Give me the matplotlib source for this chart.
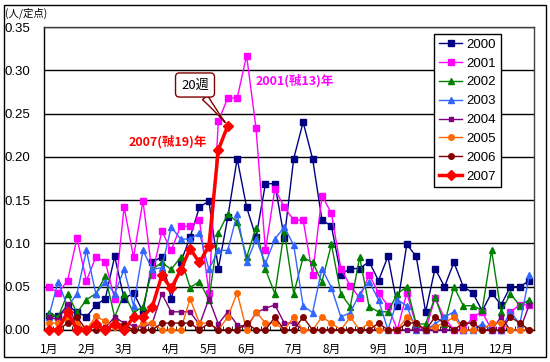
import matplotlib
matplotlib.use('Agg')
import matplotlib.pyplot as plt
from matplotlib.patches import Rectangle
import numpy as np

weeks = list(range(1, 53))
month_labels = ['1月', '2月', '3月', '4月', '5月', '6月', '7月', '8月', '9月', '10月', '11月', '12月']
month_weeks = [1, 5, 9, 14, 18, 22, 27, 31, 36, 40, 44, 49]
y_ticks = [0.00, 0.05, 0.10, 0.15, 0.20, 0.25, 0.30, 0.35]

y2000 = [0.016, 0.016, 0.028, 0.021, 0.015, 0.029, 0.036, 0.085, 0.036, 0.043,
         0.021, 0.079, 0.084, 0.036, 0.078, 0.107, 0.142, 0.149, 0.071, 0.130,
         0.198, 0.142, 0.107, 0.169, 0.169, 0.106, 0.198, 0.240, 0.198, 0.127,
         0.120, 0.064, 0.071, 0.071, 0.079, 0.057, 0.085, 0.028, 0.099, 0.085,
         0.021, 0.071, 0.050, 0.078, 0.050, 0.043, 0.022, 0.043, 0.029, 0.050,
         0.050, 0.057]
y2001 = [0.050, 0.043, 0.057, 0.106, 0.057, 0.084, 0.079, 0.036, 0.142, 0.084,
         0.149, 0.064, 0.114, 0.092, 0.120, 0.120, 0.127, 0.043, 0.241, 0.268,
         0.268, 0.317, 0.233, 0.092, 0.163, 0.142, 0.127, 0.127, 0.064, 0.155,
         0.135, 0.071, 0.051, 0.037, 0.064, 0.043, 0.028, 0.000, 0.043, 0.005,
         0.000, 0.037, 0.014, 0.000, 0.000, 0.015, 0.021, 0.000, 0.000, 0.021,
         0.029, 0.029]
y2002 = [0.020, 0.015, 0.042, 0.020, 0.035, 0.042, 0.062, 0.015, 0.042, 0.020,
         0.027, 0.070, 0.078, 0.070, 0.084, 0.049, 0.056, 0.035, 0.112, 0.134,
         0.125, 0.084, 0.118, 0.070, 0.042, 0.114, 0.042, 0.084, 0.078, 0.056,
         0.099, 0.042, 0.027, 0.084, 0.027, 0.021, 0.021, 0.042, 0.050, 0.007,
         0.007, 0.038, 0.007, 0.050, 0.028, 0.028, 0.023, 0.092, 0.021, 0.042,
         0.028, 0.035]
y2003 = [0.015, 0.056, 0.027, 0.042, 0.092, 0.042, 0.056, 0.042, 0.070, 0.028,
         0.092, 0.070, 0.072, 0.119, 0.105, 0.105, 0.112, 0.070, 0.092, 0.092,
         0.134, 0.078, 0.105, 0.077, 0.105, 0.119, 0.098, 0.028, 0.020, 0.071,
         0.049, 0.015, 0.020, 0.042, 0.056, 0.035, 0.000, 0.035, 0.028, 0.000,
         0.000, 0.007, 0.015, 0.021, 0.000, 0.000, 0.007, 0.000, 0.000, 0.021,
         0.007, 0.063]
y2004 = [0.015, 0.012, 0.030, 0.005, 0.000, 0.005, 0.003, 0.015, 0.008, 0.005,
         0.003, 0.008, 0.042, 0.021, 0.021, 0.021, 0.006, 0.036, 0.007, 0.021,
         0.006, 0.003, 0.020, 0.025, 0.029, 0.008, 0.008, 0.000, 0.000, 0.000,
         0.000, 0.000, 0.000, 0.000, 0.000, 0.000, 0.000, 0.000, 0.000, 0.000,
         0.000, 0.000, 0.000, 0.000, 0.000, 0.000, 0.000, 0.000, 0.015, 0.000,
         0.000, 0.029]
y2005 = [0.008, 0.008, 0.012, 0.008, 0.000, 0.016, 0.010, 0.003, 0.003, 0.000,
         0.008, 0.008, 0.000, 0.000, 0.000, 0.036, 0.008, 0.008, 0.000, 0.015,
         0.043, 0.000, 0.021, 0.008, 0.008, 0.000, 0.015, 0.000, 0.000, 0.015,
         0.008, 0.000, 0.015, 0.000, 0.008, 0.000, 0.000, 0.000, 0.015, 0.008,
         0.000, 0.004, 0.008, 0.015, 0.000, 0.000, 0.000, 0.008, 0.008, 0.000,
         0.000, 0.000]
y2006 = [0.000, 0.000, 0.008, 0.015, 0.000, 0.000, 0.000, 0.008, 0.006, 0.000,
         0.000, 0.000, 0.008, 0.008, 0.008, 0.008, 0.000, 0.008, 0.000, 0.000,
         0.000, 0.008, 0.000, 0.000, 0.015, 0.000, 0.000, 0.015, 0.000, 0.000,
         0.000, 0.000, 0.000, 0.000, 0.000, 0.008, 0.000, 0.000, 0.008, 0.008,
         0.000, 0.015, 0.008, 0.000, 0.008, 0.008, 0.000, 0.000, 0.000, 0.015,
         0.008, 0.000]
y2007 = [0.000, 0.000, 0.021, 0.000, 0.000, 0.007, 0.000, 0.007, 0.000, 0.015,
         0.015, 0.027, 0.063, 0.048, 0.069, 0.094, 0.078, 0.097, 0.208, 0.236]

series_names = ['2000', '2001', '2002', '2003', '2004', '2005', '2006', '2007']
series_vals = [y2000, y2001, y2002, y2003, y2004, y2005, y2006, y2007]
colors = ['#000080', '#FF00FF', '#008000', '#3366FF', '#800080', '#FF6600', '#800000', '#FF0000']
markers = ['s', 's', '^', '^', 's', 'o', 'o', 'D']
msizes = [3.8, 3.8, 4.5, 4.5, 2.5, 4.0, 4.0, 5.5]
lwidths = [1.0, 1.0, 1.0, 1.0, 1.0, 1.0, 1.0, 2.5]

fig = plt.figure(figsize=(5.5, 3.62), dpi=100)
fig.patch.set_facecolor('white')
ax = fig.add_axes([44/550, 32/362, 490/550, 303/362])

handles = []
for name, vals, c, m, ms, lw in zip(series_names, series_vals, colors, markers, msizes, lwidths):
    ln, = ax.plot(weeks[:len(vals)], vals, color=c, marker=m, ms=ms, lw=lw,
                  mec=c, mfc=c, clip_on=False, zorder=3, label=name)
    handles.append(ln)

ax.set_xlim(0.5, 52.5)
ax.set_ylim(0, 0.35)
ax.set_yticks(y_ticks)
ax.set_yticklabels(['%.2f' % v for v in y_ticks], family='Liberation Sans', fontsize=9.5)
ax.yaxis.grid(True, color='black', lw=1)
ax.set_axisbelow(True)
ax.tick_params(axis='y', length=0, pad=10)

ax.set_xticks(month_weeks)
ax.set_xticklabels(month_labels, family=['Noto Sans CJK JP', 'DejaVu Sans'], fontsize=8.5)
ax.set_xticks([w + 0.5 for w in weeks[:-1]], minor=True)
ax.tick_params(axis='x', which='major', length=0, pad=9)
ax.tick_params(axis='x', which='minor', direction='in', length=3, color='black')

for s in ['left', 'bottom']:
    ax.spines[s].set_color('black')
for s in ['top', 'right']:
    ax.spines[s].set_color('#404040')
for s in ax.spines.values():
    s.set_linewidth(1)

leg = ax.legend(handles=handles, loc='upper left', bbox_to_anchor=(0.796, 0.977),
                prop={'family': 'Liberation Sans', 'size': 9.5},
                frameon=True, fancybox=False, edgecolor='black', framealpha=1,
                handlelength=1.8, handletextpad=0.3, labelspacing=0.5,
                borderpad=0.35, borderaxespad=0)
leg.get_frame().set_linewidth(1)

jp = ['Noto Sans CJK JP', 'DejaVu Sans']
fig.text(5/550, 1 - 13/362, '(人/定点)', family=jp, fontsize=7.5, ha='left', va='center')
fig.text(256/550, 1 - 81/362, '2001(㍻13)年', family=jp, fontsize=9, fontweight='bold',
         color='#FF00FF', ha='left', va='center')
fig.text(129/550, 1 - 142/362, '2007(㍻19)年', family=jp, fontsize=9, fontweight='bold',
         color='#FF0000', ha='left', va='center')

ax.annotate('20週', xy=(20, y2007[-1]), xycoords='data',
            xytext=(195, 362 - 85), textcoords='figure pixels',
            ha='center', va='center', family=jp, fontsize=9.5,
            bbox=dict(boxstyle='round,pad=0.42,rounding_size=0.3', fc='white', ec='#800000', lw=1),
            arrowprops=dict(arrowstyle='wedge,tail_width=0.5,shrink_factor=0.4',
                            fc='white', ec='#800000', lw=1, shrinkA=0, shrinkB=3),
            zorder=5)

fig.add_artist(Rectangle((4/550, 5/362), 542/550, 352/362, transform=fig.transFigure,
                         fill=False, ec='black', lw=1))

fig.savefig('out.png', dpi=100)
